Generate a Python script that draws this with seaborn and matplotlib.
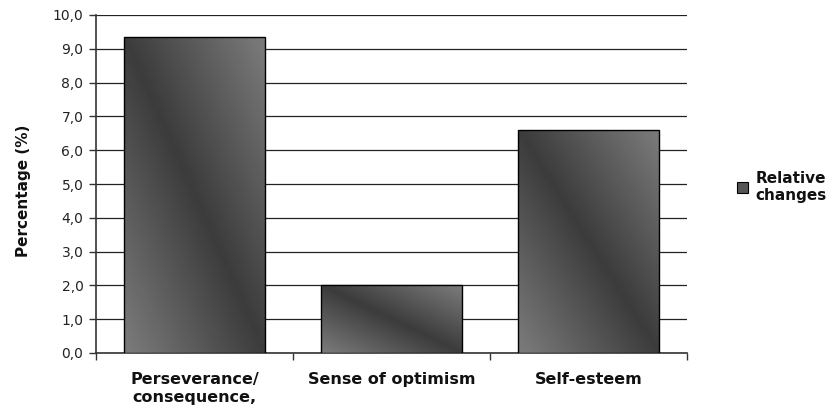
import matplotlib
matplotlib.use("Agg")
import matplotlib.pyplot as plt
import seaborn as sns
import numpy as np
import pandas as pd
from matplotlib.patches import Patch
from matplotlib.ticker import FixedLocator, FuncFormatter

# data
categories = ["Perseverance/\nconsequence,", "Sense of optimism", "Self-esteem"]
values = [9.35, 2.0, 6.6]
series_name = "Relative\nchanges"
y_ticks = np.arange(0, 10.01, 1.0)

df = pd.DataFrame({"category": categories, "value": values})

sns.set_style("white")
plt.rcParams["font.family"] = ["DejaVu Sans"]

fig = plt.figure(figsize=(8.4, 4.11), dpi=100)
ax = fig.add_axes([96 / 840, 1 - 353 / 411, (687 - 96) / 840, (353 - 15) / 411])

sns.barplot(data=df, x="category", y="value", color="#555555", edgecolor="black",
            linewidth=1.0, width=0.72, ax=ax, zorder=3)

# diagonal gradient fill: dark along top-left -> bottom-right diagonal, lighter away from it
n = 200
u = np.linspace(0, 1, n)
uu, vv = np.meshgrid(u, u)          # vv: 0 at top, 1 at bottom
d = np.abs(uu - vv)
shade = 0.235 + (0.475 - 0.235) * np.clip(d / 0.95, 0, 1)
for p in ax.patches:
    x0, y0 = p.get_x(), p.get_y()
    w, h = p.get_width(), p.get_height()
    im = ax.imshow(shade, cmap="gray", vmin=0, vmax=1, aspect="auto",
                   extent=(x0, x0 + w, y0, y0 + h), origin="upper",
                   zorder=3.5, interpolation="bilinear")
    im.set_clip_path(p)
    p.set_facecolor("none")
    p.set_zorder(4)

ax.set_xlim(-0.5, 2.5)
ax.set_ylim(0, 10)
ax.yaxis.set_major_locator(FixedLocator(y_ticks))
ax.yaxis.set_major_formatter(FuncFormatter(lambda v, _: f"{v:.1f}".replace(".", ",")))
ax.grid(axis="y", color="#222222", linewidth=0.9, zorder=0)
ax.set_axisbelow(True)

# ticks at category boundaries, labels at centres
ax.set_xticks([-0.5, 0.5, 1.5, 2.5])
ax.set_xticklabels([])
ax.set_xticks([0, 1, 2], minor=True)
ax.set_xticklabels(categories, minor=True, fontsize=11.5, fontweight="bold", color="#111111")
ax.tick_params(axis="x", which="major", direction="out", length=5, width=1, color="#333333", bottom=True)
ax.tick_params(axis="x", which="minor", length=0, pad=14)
ax.tick_params(axis="y", direction="out", length=5, width=1, color="#333333", left=True,
               labelsize=10, pad=4, labelcolor="#222222")

for s in ["top", "right"]:
    ax.spines[s].set_visible(False)
for s in ["left", "bottom"]:
    ax.spines[s].set_color("#333333")
    ax.spines[s].set_linewidth(1.2)

ax.set_xlabel("")
ax.set_ylabel("Percentage (%)", fontsize=11, fontweight="bold", color="#111111")
ax.yaxis.set_label_coords(-0.11, 0.48)

handle = Patch(facecolor="#555555", edgecolor="black", linewidth=0.8)
leg = fig.legend([handle], [series_name], loc="upper left", bbox_to_anchor=(726 / 840, 1 - 160 / 411),
                 frameon=False, prop={"weight": "bold", "size": 11},
                 handlelength=0.75, handleheight=0.75, handletextpad=0.5, borderpad=0.2)
for t in leg.get_texts():
    t.set_color("#111111")

fig.savefig("out.png", dpi=100)
